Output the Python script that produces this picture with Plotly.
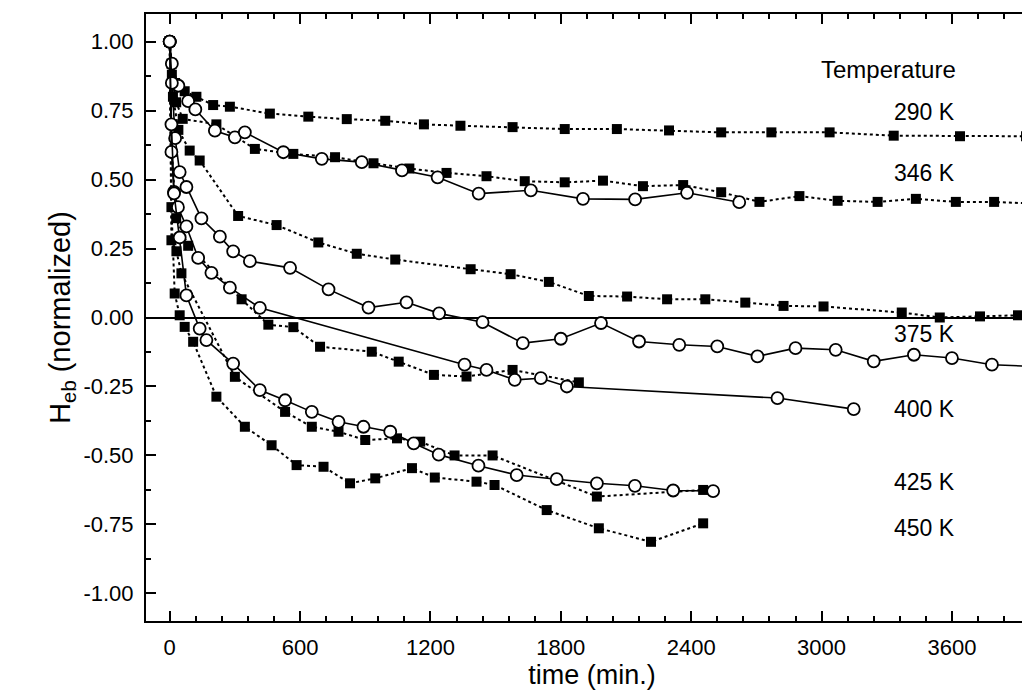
import plotly.graph_objects as go

# ---- data (time in min, H_eb normalized) ----
t_290_sq = [0, 8, 25, 69, 123, 200, 277, 461, 638, 815, 992, 1170, 1338, 1578, 1818, 2058, 2298, 2538, 2769, 3037, 3332, 3637, 3941]
h_290_sq = [1.0, 0.92, 0.85, 0.82, 0.80, 0.77, 0.764, 0.739, 0.728, 0.719, 0.713, 0.70, 0.695, 0.69, 0.683, 0.683, 0.678, 0.671, 0.671, 0.671, 0.659, 0.657, 0.657]

t_346_sq = [0, 10, 30, 60, 215, 392, 569, 761, 938, 1103, 1274, 1458, 1634, 1818, 1994, 2178, 2363, 2538, 2714, 2898, 3074, 3258, 3434, 3618, 3794, 3969]
h_346_sq = [1.0, 0.88, 0.78, 0.72, 0.70, 0.611, 0.593, 0.581, 0.559, 0.54, 0.524, 0.512, 0.494, 0.49, 0.496, 0.476, 0.48, 0.454, 0.419, 0.44, 0.423, 0.419, 0.43, 0.419, 0.419, 0.413]

t_346_ci = [0, 10, 40, 85, 118, 208, 300, 346, 523, 700, 884, 1069, 1233, 1422, 1662, 1902, 2142, 2381, 2621]
h_346_ci = [1.0, 0.92, 0.84, 0.784, 0.754, 0.677, 0.653, 0.671, 0.599, 0.575, 0.563, 0.533, 0.508, 0.449, 0.461, 0.43, 0.428, 0.452, 0.418]

t_375_sq = [0, 15, 40, 92, 138, 315, 492, 684, 861, 1038, 1385, 1569, 1745, 1929, 2105, 2289, 2465, 2649, 2825, 3009, 3369, 3544, 3729, 3904]
h_375_sq = [1.0, 0.8, 0.68, 0.605, 0.569, 0.368, 0.335, 0.272, 0.231, 0.21, 0.175, 0.157, 0.129, 0.078, 0.076, 0.066, 0.066, 0.054, 0.042, 0.04, 0.018, 0.0, 0.004, 0.008]

t_375_ci = [0, 10, 25, 46, 77, 146, 231, 292, 369, 554, 731, 915, 1090, 1240, 1440, 1625, 1800, 1985, 2160, 2345, 2520, 2705, 2880, 3065, 3240, 3425, 3600, 3784, 3960]
h_375_ci = [1.0, 0.85, 0.65, 0.527, 0.473, 0.359, 0.293, 0.24, 0.204, 0.18, 0.102, 0.036, 0.055, 0.015, -0.017, -0.093, -0.077, -0.02, -0.087, -0.099, -0.105, -0.141, -0.111, -0.117, -0.159, -0.135, -0.147, -0.171, -0.177]

t_400_sq = [0, 10, 30, 85, 331, 454, 569, 692, 930, 1054, 1216, 1366, 1578, 1883]
h_400_sq = [1.0, 0.6, 0.36, 0.26, 0.066, -0.026, -0.035, -0.106, -0.124, -0.16, -0.208, -0.214, -0.19, -0.235]

t_400_ci = [0, 8, 20, 38, 77, 131, 192, 277, 415, 1357, 1458, 1588, 1708, 1828, 2797, 3148]
h_400_ci = [1.0, 0.6, 0.455, 0.40, 0.33, 0.216, 0.162, 0.108, 0.035, -0.171, -0.19, -0.226, -0.22, -0.25, -0.292, -0.332]

t_425_sq = [0, 8, 31, 54, 300, 531, 654, 777, 900, 1046, 1153, 1311, 1486, 1966, 2455]
h_425_sq = [1.0, 0.28, 0.24, 0.16, -0.215, -0.342, -0.396, -0.414, -0.444, -0.438, -0.45, -0.5, -0.5, -0.649, -0.625]

t_425_ci = [0, 8, 20, 46, 77, 138, 169, 292, 415, 531, 654, 777, 892, 1015, 1123, 1238, 1421, 1597, 1781, 1966, 2141, 2317, 2501]
h_425_ci = [1.0, 0.7, 0.45, 0.29, 0.08, -0.04, -0.082, -0.167, -0.263, -0.30, -0.342, -0.378, -0.396, -0.414, -0.456, -0.497, -0.537, -0.571, -0.586, -0.601, -0.61, -0.627, -0.629]

t_450_sq = [0, 8, 23, 46, 69, 108, 215, 346, 469, 584, 708, 830, 946, 1115, 1220, 1412, 1495, 1735, 1975, 2215, 2455]
h_450_sq = [1.0, 0.4, 0.087, 0.008, -0.034, -0.088, -0.287, -0.396, -0.463, -0.535, -0.541, -0.601, -0.583, -0.546, -0.58, -0.595, -0.607, -0.698, -0.764, -0.813, -0.746]

temp_labels = ["290 K", "346 K", "375 K", "400 K", "425 K", "450 K"]
label_y = [0.745, 0.525, -0.06, -0.33, -0.595, -0.762]
label_x = 3625
header_text = "Temperature"
header_y = 0.898

x_ticks = [0, 600, 1200, 1800, 2400, 3000, 3600]
y_ticks = [1.0, 0.75, 0.5, 0.25, 0.0, -0.25, -0.5, -0.75, -1.0]
y_ticktext = ["1.00", "0.75", "0.50", "0.25", "0.00", "-0.25", "-0.50", "-0.75", "-1.00"]

x_range = [-109, 3996]
y_range = [-1.1, 1.1]

FONT = "Liberation Sans, Arial, sans-serif"

fig = go.Figure()

sq_series = [(t_290_sq, h_290_sq), (t_346_sq, h_346_sq), (t_375_sq, h_375_sq),
             (t_400_sq, h_400_sq), (t_425_sq, h_425_sq), (t_450_sq, h_450_sq)]
ci_series = [(t_346_ci, h_346_ci), (t_375_ci, h_375_ci), (t_400_ci, h_400_ci), (t_425_ci, h_425_ci)]

for t, h in sq_series:
    fig.add_trace(go.Scatter(x=t, y=h, mode="lines+markers",
                             line=dict(color="black", width=2, dash="dot"),
                             marker=dict(symbol="square", size=10, color="black"),
                             showlegend=False))
for t, h in ci_series:
    fig.add_trace(go.Scatter(x=t, y=h, mode="lines+markers",
                             line=dict(color="black", width=1.6),
                             marker=dict(symbol="circle", size=12, color="white",
                                         line=dict(color="black", width=1.8)),
                             showlegend=False))

# invisible trace to activate right-side tick axis
fig.add_trace(go.Scatter(x=[x_range[0]], y=[0], yaxis="y2", mode="markers",
                         marker=dict(opacity=0), showlegend=False, hoverinfo="skip"))

fig.add_annotation(x=label_x + 5, y=header_y, text=header_text, showarrow=False,
                   xanchor="right", yanchor="middle",
                   font=dict(family=FONT, size=24, color="black"))
for lab, ly in zip(temp_labels, label_y):
    fig.add_annotation(x=label_x, y=ly, text=lab, showarrow=False,
                       xanchor="right", yanchor="middle",
                       font=dict(family=FONT, size=23, color="black"))

axis_common = dict(showgrid=False, linecolor="black", linewidth=2,
                   ticks="inside", tickcolor="black", tickwidth=1.5, ticklen=10)

fig.update_layout(
    width=1030, height=693,
    margin=dict(l=138, r=0, t=6, b=80),
    paper_bgcolor="white", plot_bgcolor="white",
    xaxis=dict(range=x_range, tickvals=x_ticks,
               showline=True, mirror="ticks", zeroline=False,
               minor=dict(dtick=120, tick0=0, ticks="inside", ticklen=5, tickcolor="black", tickwidth=1.5),
               tickfont=dict(family=FONT, size=22, color="black"),
               title=dict(text="time (min.)", standoff=0,
                          font=dict(family=FONT, size=27, color="black")),
               ticklabelstandoff=6,
               **axis_common),
    yaxis=dict(range=y_range, tickvals=y_ticks, ticktext=y_ticktext,
               showline=True, mirror=False,
               zeroline=True, zerolinecolor="black", zerolinewidth=1.6,
               minor=dict(dtick=0.125, tick0=0, ticks="inside", ticklen=5, tickcolor="black", tickwidth=1.5),
               tickfont=dict(family=FONT, size=22, color="black"),
               title=dict(text="H<sub>eb</sub> (normalized)", standoff=4,
                          font=dict(family=FONT, size=29, color="black")),
               ticklabelstandoff=6,
               **axis_common),
    yaxis2=dict(range=y_range, overlaying="y", side="right", showline=False,
                showticklabels=False, showgrid=False, zeroline=False,
                tickvals=y_ticks,
                ticks="inside", tickcolor="black", tickwidth=1.5, ticklen=10,
                minor=dict(dtick=0.125, tick0=0, ticks="inside", ticklen=5, tickcolor="black", tickwidth=1.5)),
)

fig.write_html("out.html")
